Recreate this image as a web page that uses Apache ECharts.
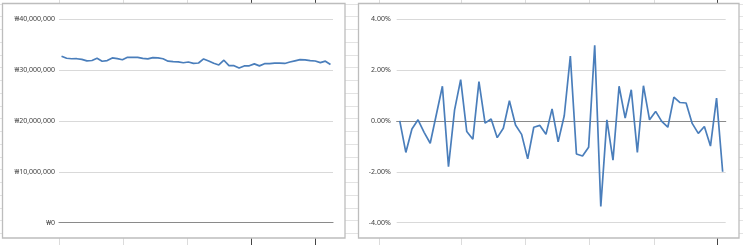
<!DOCTYPE html>
<html>
<head>
<meta charset="utf-8">
<script src="https://cdn.jsdelivr.net/npm/echarts@6/dist/echarts.min.js"></script>
<style>
html,body{margin:0;padding:0;background:#fff;}
#c{width:743px;height:245px;}
</style>
</head>
<body>
<div id="c"></div>
<script>
const categories = Array.from({length: 54}, (_, i) => String(i + 1));
const prices = [32700000, 32290000, 32190000, 32200000, 32060000, 31770000, 31850000, 32280000, 31700000, 31840000,
  32350000, 32220000, 31990000, 32480000, 32450000, 32470000, 32260000, 32160000, 32420000, 32370000,
  32200000, 31720000, 31640000, 31580000, 31410000, 31560000, 31300000, 31360000, 32160000, 31740000,
  31300000, 30980000, 31900000, 30830000, 30840000, 30360000, 30780000, 30810000, 31190000, 30800000,
  31230000, 31240000, 31350000, 31350000, 31270000, 31560000, 31790000, 32010000, 31980000, 31820000,
  31750000, 31440000, 31720000, 31080000];
const returnsPct = [0, -1.24, -0.32, 0.04, -0.45, -0.88, 0.24, 1.36, -1.80, 0.43,
  1.62, -0.42, -0.72, 1.54, -0.09, 0.07, -0.66, -0.29, 0.79, -0.16,
  -0.53, -1.49, -0.25, -0.18, -0.53, 0.47, -0.82, 0.20, 2.54, -1.30,
  -1.38, -1.04, 2.97, -3.36, 0.04, -1.54, 1.36, 0.11, 1.22, -1.24,
  1.38, 0.04, 0.37, -0.02, -0.25, 0.93, 0.72, 0.70, -0.10, -0.49,
  -0.22, -0.99, 0.89, -2.00];
const priceTicks = {min: 0, max: 40000000, interval: 10000000};
const returnTicks = {min: -4, max: 4, interval: 2};

// decorative spreadsheet background
const deco = [];
const rowLineColor = '#e3e3e3';
for (let k = 0; k < 20; k++) {
  const y = Math.round(3.5 + 12.75 * k) + 0.5;
  deco.push({type: 'line', z: 0, shape: {x1: 0, y1: y, x2: 743, y2: y}, style: {stroke: rowLineColor, lineWidth: 1}});
}
const colXs = [59.5, 123.5, 187.5, 251.5, 315.5, 379.5, 461.5, 525.5, 589.5, 654.5, 717.5];
const darkCols = [251.5, 315.5, 717.5];
colXs.forEach(x => {
  deco.push({type: 'line', z: 0, shape: {x1: x, y1: 0, x2: x, y2: 245},
    style: {stroke: darkCols.includes(x) ? '#444' : '#dcdcdc', lineWidth: 1}});
});
// chart boxes
deco.push({type: 'rect', z: 0, shape: {x: 2.5, y: 3.5, width: 342.5, height: 234.5}, style: {fill: '#fff', stroke: '#bdbdbd', lineWidth: 1.3}});
deco.push({type: 'rect', z: 0, shape: {x: 358.5, y: 3.5, width: 380.5, height: 234.5}, style: {fill: '#fff', stroke: '#bdbdbd', lineWidth: 1.3}});

const fontFamily = '"Noto Sans", "Liberation Sans", sans-serif';
const labelStyle = {color: '#404040', fontSize: 7, fontFamily: fontFamily};

const chart = echarts.init(document.getElementById('c'), null, {renderer: 'canvas'});
chart.setOption({
  animation: false,
  backgroundColor: '#ffffff',
  graphic: {elements: deco},
  grid: [
    {left: 59, right: 410, top: 19, bottom: 22.3},
    {left: 396.7, right: 17.3, top: 19, bottom: 22.3}
  ],
  xAxis: [
    {gridIndex: 0, type: 'category', data: categories, boundaryGap: true, z: 1,
      axisLine: {show: true, onZero: true, lineStyle: {color: '#8a8a8a', width: 1.2}},
      axisTick: {show: false}, axisLabel: {show: false}, splitLine: {show: false}},
    {gridIndex: 1, type: 'category', data: categories, boundaryGap: true, z: 1,
      axisLine: {show: true, onZero: true, lineStyle: {color: '#8a8a8a', width: 1.2}},
      axisTick: {show: false}, axisLabel: {show: false}, splitLine: {show: false}}
  ],
  yAxis: [
    {gridIndex: 0, type: 'value', min: priceTicks.min, max: priceTicks.max, interval: priceTicks.interval, z: 1,
      axisLine: {show: false}, axisTick: {show: false},
      axisLabel: Object.assign({margin: 4, formatter: v => '\u20A9' + v.toLocaleString('en-US')}, labelStyle),
      splitLine: {show: true, lineStyle: {color: '#d9d9d9', width: 1}}},
    {gridIndex: 1, type: 'value', min: returnTicks.min, max: returnTicks.max, interval: returnTicks.interval, z: 1,
      axisLine: {show: false}, axisTick: {show: false},
      axisLabel: Object.assign({margin: 6, formatter: v => v.toFixed(2) + '%'}, labelStyle),
      splitLine: {show: true, lineStyle: {color: '#d9d9d9', width: 1}}}
  ],
  series: [
    {type: 'line', xAxisIndex: 0, yAxisIndex: 0, data: prices, symbol: 'none', z: 3,
      lineStyle: {color: '#4a7ebb', width: 1.7}},
    {type: 'line', xAxisIndex: 1, yAxisIndex: 1, data: returnsPct, symbol: 'none', z: 3,
      lineStyle: {color: '#4a7ebb', width: 1.7}}
  ]
});
</script>
</body>
</html>
